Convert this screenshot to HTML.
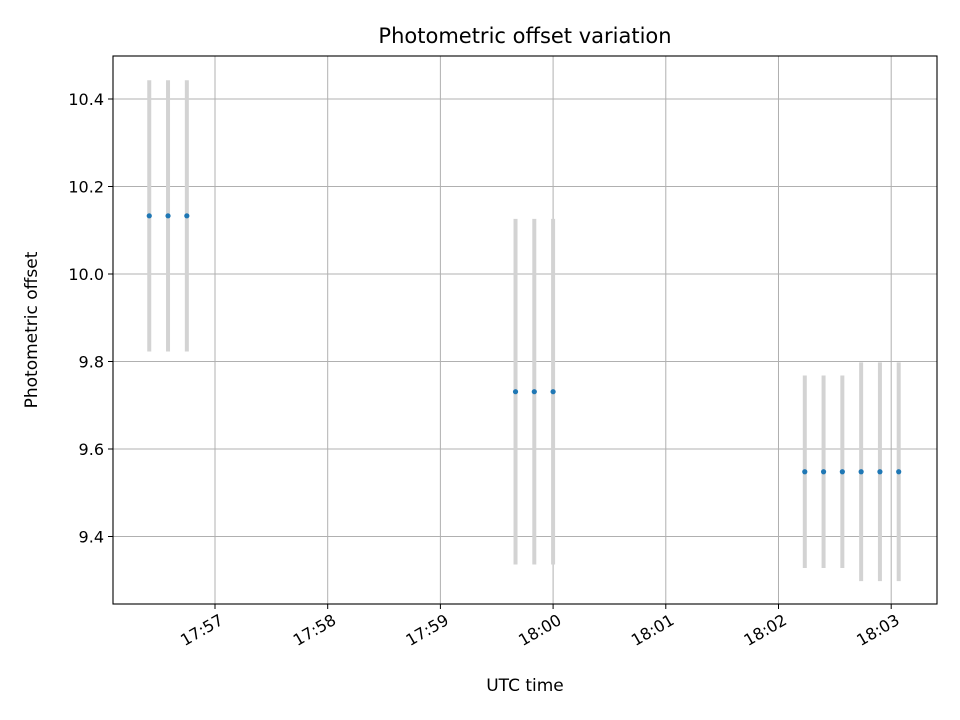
<!DOCTYPE html>
<html><head><meta charset="utf-8"><style>
body{margin:0;background:#fff;}
svg{display:block;font-family:"DejaVu Sans","Liberation Sans",sans-serif;}
</style></head><body>
<svg id="chart" width="960" height="720" viewBox="0 0 960 720">
<rect width="960" height="720" fill="#fff"/>
<g id="grid"></g>
<g id="bars"></g>
<g id="pts"></g>
<rect x="113" y="56" width="824" height="548" fill="none" stroke="#000" stroke-width="1.1"/>
<g id="ticks"></g>
<text x="525" y="43" text-anchor="middle" font-size="21">Photometric offset variation</text>
<text x="525" y="691" text-anchor="middle" font-size="17">UTC time</text>
<text transform="translate(37,330) rotate(-90)" text-anchor="middle" font-size="17">Photometric offset</text>
</svg>
<script>
// seconds after 17:56:00
const times = [25, 35, 45, 220, 230, 240, 374, 384, 394, 404, 414, 424];
const offsets = [10.133, 10.133, 10.133, 9.731, 9.731, 9.731, 9.548, 9.548, 9.548, 9.548, 9.548, 9.548];
const errors = [0.31, 0.31, 0.31, 0.395, 0.395, 0.395, 0.22, 0.22, 0.22, 0.25, 0.25, 0.25];
const yTicks = [9.4, 9.6, 9.8, 10.0, 10.2, 10.4];
const xTickSecs = [60, 120, 180, 240, 300, 360, 420];
const xTickLabels = ["17:57", "17:58", "17:59", "18:00", "18:01", "18:02", "18:03"];

const NS = "http://www.w3.org/2000/svg";
function xs(t){ return 215 + (t - 60) * 1.8783; }
function ys(v){ return 274 - (v - 10) * 437.5; }
function mk(tag, attrs, parent){ const e = document.createElementNS(NS, tag); for (const k in attrs) e.setAttribute(k, attrs[k]); document.getElementById(parent).appendChild(e); return e; }

yTicks.forEach(v => {
  const y = ys(v);
  const g = mk("line", {x1:113, x2:937, y1:y, y2:y, stroke:"#b0b0b0", "stroke-width":1}, "grid");
  
  
  const t = mk("line", {x1:108, x2:113, y1:y, y2:y, stroke:"#000", "stroke-width":1}, "ticks");
  
  
  const l = mk("text", {x:104, y:y + 6, "text-anchor":"end", "font-size":"16"}, "ticks");
  l.textContent = v.toFixed(1);
  
  
});
xTickSecs.forEach((s, i) => {
  const x = xs(s);
  const g = mk("line", {x1:x, x2:x, y1:56, y2:604, stroke:"#b0b0b0", "stroke-width":1}, "grid");
  
  
  const t = mk("line", {x1:x, x2:x, y1:604, y2:609, stroke:"#000", "stroke-width":1}, "ticks");
  
  
  const l = mk("text", {transform:"translate(" + (x + 3) + ",612) rotate(-30)", dy:"13", "text-anchor":"end", "font-size":"16"}, "ticks");
  l.textContent = xTickLabels[i];
  
  
});
times.forEach((t, i) => {
  const x = xs(t);
  const b = mk("line", {x1:x, x2:x, y1:ys(offsets[i] + errors[i]), y2:ys(offsets[i] - errors[i]), stroke:"#d3d3d3", "stroke-width":4}, "bars");
  
  
  const p = mk("circle", {cx:x, cy:ys(offsets[i]), r:2.6, fill:"#1f77b4"}, "pts");
  
  
});
</script>
</body></html>
